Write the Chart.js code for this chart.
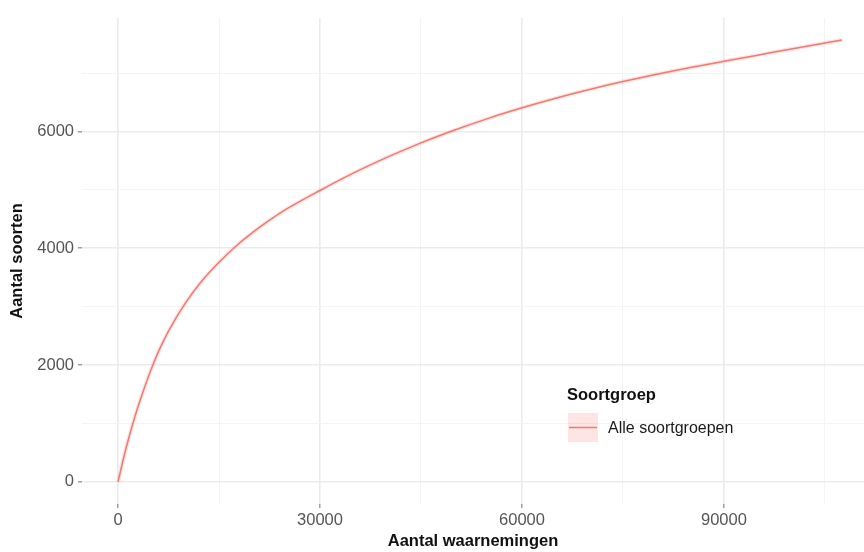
<!DOCTYPE html>
<html>
<head>
<meta charset="utf-8">
<script src="https://cdn.jsdelivr.net/npm/chart.js@4"></script>
<style>
  html, body { margin: 0; padding: 0; background: #fff; }
  #wrap { width: 864px; height: 552px; }
</style>
</head>
<body>
<div id="wrap"><canvas id="curveChart" width="864" height="552"></canvas></div>
<script>
const observations = [0, 1000, 2000, 3000, 4000, 5000, 6000, 7500, 10000, 12500, 15000, 17500, 20000, 22500, 25000,
  30000, 35000, 40000, 45000, 50000, 55000, 60000, 65000, 70000, 75000, 80000, 85000, 90000, 95000, 100000, 105000, 107500];
const speciesCount = [0, 490, 920, 1300, 1640, 1950, 2230, 2582, 3060, 3447, 3760, 4035, 4272, 4482, 4670,
  4990, 5290, 5560, 5805, 6025, 6225, 6405, 6570, 6720, 6855, 6980, 7095, 7202, 7307, 7412, 7514, 7565];

const xTicks = [0, 15000, 30000, 45000, 60000, 75000, 90000, 105000];
const xTickLabels = [0, 30000, 60000, 90000];
const yTicks = [0, 1000, 2000, 3000, 4000, 5000, 6000, 7000];
const yTickLabels = [0, 2000, 4000, 6000];

const seriesName = 'Alle soortgroepen';
const legendTitle = 'Soortgroep';
const lineColor = '#EE7A74';
const bandColor = 'rgba(248,118,109,0.2)';
const FONT = "'Liberation Sans', Arial, sans-serif";

const points = observations.map((x, i) => ({ x: x, y: speciesCount[i] }));

function gridStyle(labels) {
  return {
    color: ctx => labels.includes(ctx.tick.value) ? '#ebebeb' : '#f4f4f4',
    lineWidth: ctx => labels.includes(ctx.tick.value) ? 1.6 : 1,
    tickColor: ctx => labels.includes(ctx.tick.value) ? '#888' : 'rgba(0,0,0,0)',
    tickLength: 4,
    tickWidth: 1.2
  };
}

const legendPlugin = {
  id: 'ggLegend',
  afterDraw(chart) {
    const c = chart.ctx;
    c.save();
    c.textBaseline = 'middle';
    c.textAlign = 'left';
    c.fillStyle = '#111';
    c.font = 'bold 16.5px ' + FONT;
    c.fillText(legendTitle, 567, 395);
    c.fillStyle = bandColor;
    c.fillRect(568, 413, 30, 29);
    c.strokeStyle = lineColor;
    c.lineWidth = 1.5;
    c.beginPath();
    c.moveTo(569, 427.5);
    c.lineTo(597, 427.5);
    c.stroke();
    c.fillStyle = '#1a1a1a';
    c.font = '16px ' + FONT;
    c.fillText(seriesName, 608, 429);
    c.restore();
  }
};

new Chart(document.getElementById('curveChart'), {
  type: 'line',
  data: {
    datasets: [
      {
        label: seriesName + ' band',
        data: points,
        borderColor: bandColor,
        borderWidth: 4,
        pointRadius: 0,
        cubicInterpolationMode: 'monotone',
        fill: false
      },
      {
        label: seriesName,
        data: points,
        borderColor: lineColor,
        borderWidth: 1.5,
        pointRadius: 0,
        cubicInterpolationMode: 'monotone',
        fill: false
      }
    ]
  },
  options: {
    responsive: false,
    animation: false,
    layout: { padding: { top: 18, right: 0, bottom: 0, left: 0 } },
    plugins: { legend: { display: false }, tooltip: { enabled: false } },
    scales: {
      x: {
        type: 'linear',
        min: -5350,
        max: 110800,
        afterBuildTicks: s => { s.ticks = xTicks.map(v => ({ value: v })); },
        afterFit: s => { s.height = 48; },
        border: { display: false },
        grid: gridStyle(xTickLabels),
        ticks: {
          autoSkip: false,
          maxRotation: 0,
          padding: 3,
          color: '#555',
          font: { family: FONT, size: 16.5 },
          callback: v => xTickLabels.includes(v) ? String(v) : ''
        },
        title: {
          display: true,
          text: 'Aantal waarnemingen',
          color: '#111',
          font: { family: FONT, size: 16.5, weight: 'bold' },
          padding: { top: 0, bottom: 1 }
        }
      },
      y: {
        min: -378,
        max: 7943,
        afterBuildTicks: s => { s.ticks = yTicks.map(v => ({ value: v })); },
        afterFit: s => { s.width = 82; },
        border: { display: false },
        grid: gridStyle(yTickLabels),
        ticks: {
          autoSkip: false,
          padding: 4,
          color: '#555',
          font: { family: FONT, size: 16.5 },
          callback: v => yTickLabels.includes(v) ? String(v) : ''
        },
        title: {
          display: true,
          text: 'Aantal soorten',
          color: '#111',
          font: { family: FONT, size: 16.5, weight: 'bold' },
          padding: { top: 8, bottom: 0 }
        }
      }
    }
  },
  plugins: [legendPlugin]
});
</script>
</body>
</html>
